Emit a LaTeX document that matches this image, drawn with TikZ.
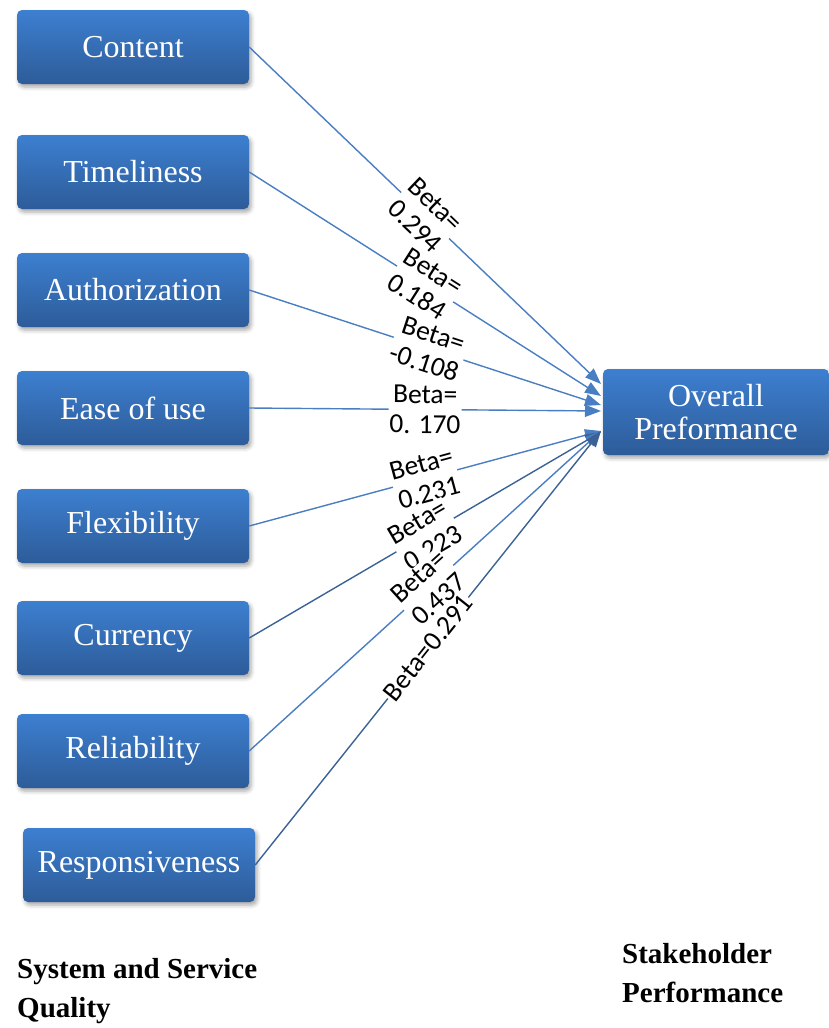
\documentclass[tikz,border=0pt]{standalone}
\usepackage{fontspec}
\setmainfont{Liberation Serif}
\newfontfamily\labelfont{Carlito}
\usetikzlibrary{arrows.meta,shadows.blur}
\definecolor{boxtop}{HTML}{3D7FD0}
\definecolor{boxbot}{HTML}{2D5C99}
\definecolor{linkA}{HTML}{4A7EC2}
\definecolor{linkB}{HTML}{3A6296}
\tikzset{
  factor/.style={rectangle, rounded corners=5pt, minimum width=232pt, minimum height=74pt,
    inner sep=0pt, top color=boxtop, bottom color=boxbot, draw=none, text=white,
    font=\fontsize{32}{34}\selectfont,
    blur shadow={shadow xshift=2pt, shadow yshift=-3pt, shadow blur radius=4pt, shadow opacity=35}},
  link/.style={draw=linkA, line width=1.4pt, -{Triangle[length=16pt,width=12pt]}},
  darklink/.style={link, draw=linkB},
  beta/.style={fill=white, inner sep=1pt, text=black, sloped, align=center,
    font=\labelfont\fontsize{27.5}{30}\selectfont},
  caption/.style={anchor=north west, align=left, inner sep=0pt,
    font=\bfseries\fontsize{29}{39}\selectfont}
}
\begin{document}
\begin{tikzpicture}[x=1pt,y=-1pt]
  \useasboundingbox (0,0) rectangle (828,1028);

  % predictor boxes
  \node[factor] (content) at (133,47)  {Content};
  \node[factor] (time)    at (133,172) {Timeliness};
  \node[factor] (auth)    at (133,290) {Authorization};
  \node[factor] (ease)    at (133,408) {Ease of use};
  \node[factor] (flex)    at (133,526) {Flexibility};
  \node[factor] (curr)    at (133,638) {Currency};
  \node[factor] (rel)     at (133,751) {Reliability};
  \node[factor] (resp)    at (139,865) {Responsiveness};

  % outcome box
  \node[factor, minimum width=226pt, minimum height=86pt, align=center,
        font=\fontsize{32}{33}\selectfont] (overall) at (716,412) {Overall\\Preformance};

  % arrival points on the outcome box
  \coordinate (t1) at (601,384);
  \coordinate (t2) at (601,396);
  \coordinate (t3) at (601,405);
  \coordinate (t4) at (601,411);
  \coordinate (t5) at (601,431);
  \coordinate (t6) at (601,432);
  \coordinate (t7) at (601,431);
  \coordinate (t8) at (601,431);

  % paths with coefficients
  \draw[link] (content.east) -- node[beta, pos=0.5] {Beta=\\0.294} (t1);
  \draw[link] (time.east) -- node[beta, pos=0.5] {Beta=\\0.184} (t2);
  \draw[link] (auth.east) -- node[beta, pos=0.51] {Beta=\\-0.108} (t3);
  \draw[link] (ease.east) -- node[beta, pos=0.5] {Beta=\\0. 170} (t4);
  \draw[link] (flex.east) -- node[beta, pos=0.5] {Beta=\\0.231} (t5);
  \draw[darklink] (curr.east) -- node[beta, pos=0.5] {Beta=\\0.223} (t6);
  \draw[link] (rel.east) -- node[beta, pos=0.51] {Beta=\\0.437} (t7);
  \draw[darklink] (resp.east) -- node[beta, pos=0.5] {Beta=0.291} (t8);

  % group captions
  \node[caption] (leftcap) at (17,958) {System and Service\\Quality};
  \node[caption] (rightcap) at (622,943) {Stakeholder\\Performance};
\end{tikzpicture}
\end{document}
